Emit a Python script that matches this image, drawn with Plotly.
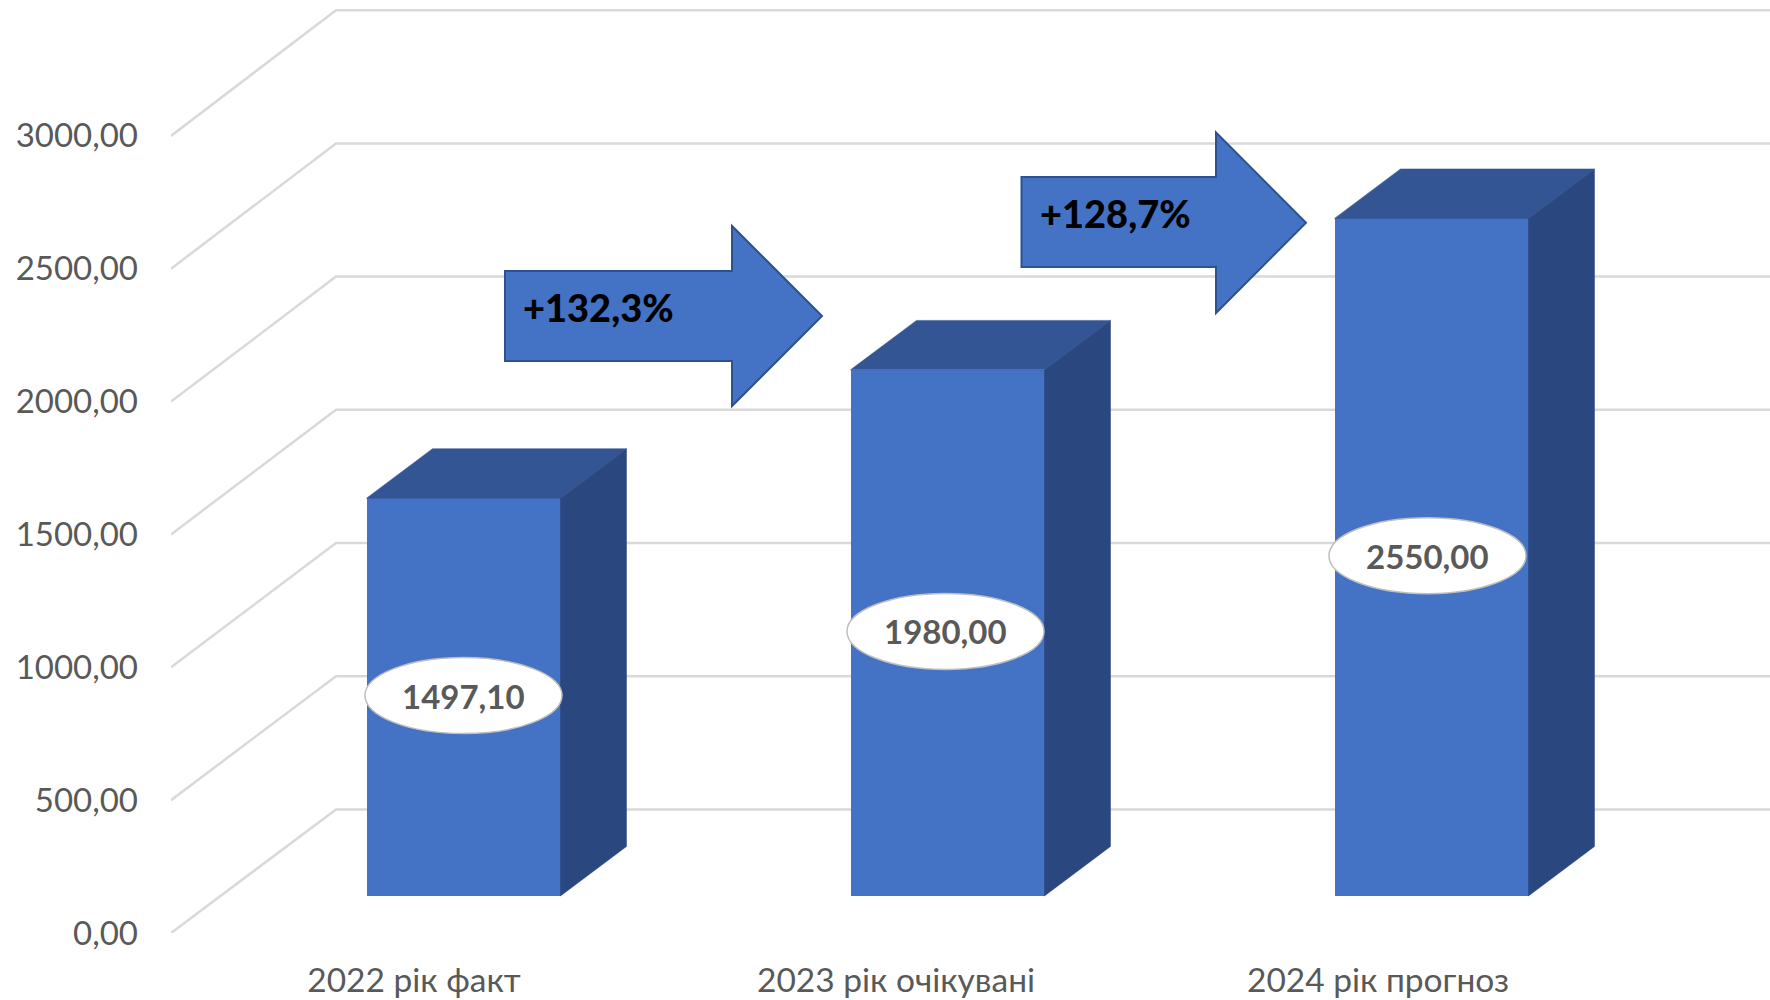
import plotly.graph_objects as go

# ---- data ----
categories = ["2022 рік факт", "2023 рік очікувані", "2024 рік прогноз"]
values = [1497.10, 1980.00, 2550.00]
value_labels = ["1497,10", "1980,00", "2550,00"]
tick_values = [0, 500, 1000, 1500, 2000, 2500, 3000]
tick_labels = ["0,00", "500,00", "1000,00", "1500,00", "2000,00", "2500,00", "3000,00"]
growth_labels = ["+132,3%", "+128,7%"]

# ---- geometry of the pseudo-3D projection ----
W, H = 1770, 1000
PLOT_L, PLOT_B = 171, 67
PX_PER_CAT = 484.0
CAT0_PX = 414.0
PX_PER_VAL = 132.85 / 500
PLOT_H = H - PLOT_B
X_RANGE = [(PLOT_L - CAT0_PX) / PX_PER_CAT, (W - CAT0_PX) / PX_PER_CAT]
Y_RANGE = [0, PLOT_H / PX_PER_VAL]
DEPTH_X = 165 / PX_PER_CAT
DEPTH_V = 123.6 / PX_PER_VAL
BACK_SCALE = 133.2 / 132.85
BAR_W = 194 / PX_PER_CAT
BAR_NEAR, BAR_FAR = 0.30, 0.70
LABEL_SPACING = 482 / 484
LABEL_LIFT = 1.5 / PX_PER_VAL

FONT = "Lato, Carlito, Calibri, sans-serif"
GREY = "#595959"
FRONT, TOP, SIDE = "#4472C4", "#335593", "#2A477F"
ARROW_EDGE = "#2F528F"
GRID = "#D9D9D9"


def px_x(px):
    return (px - CAT0_PX) / PX_PER_CAT


def px_v(py):
    return (PLOT_H - py) / PX_PER_VAL


shapes = []
# receding gridlines (floor/wall), behind the bars
for v in tick_values:
    xs = [X_RANGE[0], X_RANGE[0] + DEPTH_X, X_RANGE[1]]
    back = v * BACK_SCALE + DEPTH_V
    ys = [v, back, back]
    path = "M %f %f L %f %f L %f %f" % (xs[0], ys[0], xs[1], ys[1], xs[2], ys[2])
    shapes.append(dict(type="path", path=path, xref="x", yref="y", layer="below",
                       line=dict(color=GRID, width=2.5)))

fig = go.Figure()
base_v = BAR_NEAR * DEPTH_V
shift_x = BAR_NEAR * DEPTH_X
fig.add_trace(go.Bar(
    x=[i + shift_x for i in range(len(values))], y=values, base=base_v, width=BAR_W,
    marker=dict(color=FRONT, line=dict(width=0)), hoverinfo="skip", showlegend=False,
))

dx = (BAR_FAR - BAR_NEAR) * DEPTH_X
dv = (BAR_FAR - BAR_NEAR) * DEPTH_V
for i, val in enumerate(values):
    l = i + shift_x - BAR_W / 2
    r = l + BAR_W
    t = base_v + val
    fig.add_trace(go.Scatter(
        x=[l, r, r + dx, l + dx, l], y=[t, t, t + dv, t + dv, t],
        mode="lines", fill="toself", fillcolor=TOP, line=dict(color=TOP, width=0.5),
        hoverinfo="skip", showlegend=False))
    fig.add_trace(go.Scatter(
        x=[r, r + dx, r + dx, r, r], y=[base_v, base_v + dv, t + dv, t, base_v],
        mode="lines", fill="toself", fillcolor=SIDE, line=dict(color=SIDE, width=0.5),
        hoverinfo="skip", showlegend=False))

annotations = []
# value labels in ellipses, centred on each bar
ELL_W, ELL_H = 197 / PX_PER_CAT, 76 / PX_PER_VAL
for i, val in enumerate(values):
    cx = i * LABEL_SPACING + shift_x
    cy = base_v + val / 2 + LABEL_LIFT
    shapes.append(dict(type="circle", xref="x", yref="y", layer="above",
                       x0=cx - ELL_W / 2, x1=cx + ELL_W / 2,
                       y0=cy - ELL_H / 2, y1=cy + ELL_H / 2,
                       fillcolor="white", line=dict(color="#BFBFBF", width=1.5)))
    annotations.append(dict(x=cx, y=cy, xref="x", yref="y", text="<b>%s</b>" % value_labels[i],
                            showarrow=False, font=dict(family=FONT, size=33, color=GREY)))

# growth arrows
ARROWS = [
    dict(left=505, body_top=271, body_bot=361, neck=732, head_top=226, head_bot=406, tip=822, text_x=598, text_y=307),
    dict(left=1021.5, body_top=177, body_bot=267, neck=1216, head_top=132.5, head_bot=313, tip=1306, text_x=1115, text_y=213),
]
for a, label in zip(ARROWS, growth_labels):
    mid = (a["head_top"] + a["head_bot"]) / 2
    pts = [(a["left"], a["body_top"]), (a["neck"], a["body_top"]), (a["neck"], a["head_top"]),
           (a["tip"], mid), (a["neck"], a["head_bot"]), (a["neck"], a["body_bot"]), (a["left"], a["body_bot"])]
    path = "M " + " L ".join("%f %f" % (px_x(p), px_v(q)) for p, q in pts) + " Z"
    shapes.append(dict(type="path", path=path, xref="x", yref="y", layer="above",
                       fillcolor=FRONT, line=dict(color=ARROW_EDGE, width=2)))
    annotations.append(dict(x=px_x(a["text_x"]), y=px_v(a["text_y"]), xref="x", yref="y",
                            text=label, showarrow=False,
                            font=dict(family=FONT, size=38, color="#000000", weight=900)))

fig.update_layout(
    width=W, height=H, margin=dict(l=PLOT_L, r=0, t=0, b=PLOT_B),
    paper_bgcolor="white", plot_bgcolor="white", showlegend=False,
    shapes=shapes, annotations=annotations, bargap=0,
    xaxis=dict(range=X_RANGE, tickmode="array",
               tickvals=[i * LABEL_SPACING for i in range(len(categories))],
               ticktext=categories, showgrid=False, zeroline=False, showline=False,
               ticks="", ticklabelstandoff=24,
               tickfont=dict(family=FONT, size=33.5, color=GREY)),
    yaxis=dict(range=Y_RANGE, tickmode="array", tickvals=tick_values, ticktext=tick_labels,
               showgrid=False, zeroline=False, showline=False, ticks="", ticklabelstandoff=32,
               tickfont=dict(family=FONT, size=33, color=GREY)),
)

fig.write_html("out.html", config=dict(displayModeBar=False),
               post_script="document.body.style.margin='0';document.documentElement.style.overflow='hidden';")
